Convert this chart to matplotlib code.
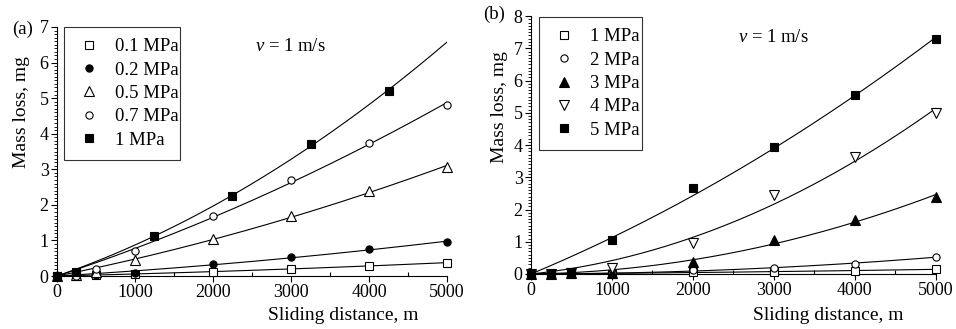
import numpy as np
import matplotlib
matplotlib.use("Agg")
import matplotlib.pyplot as plt
from matplotlib.ticker import MultipleLocator

plt.rcParams['font.family'] = ['Liberation Serif', 'DejaVu Serif']
plt.rcParams['mathtext.fontset'] = 'custom'
plt.rcParams['mathtext.rm'] = 'Liberation Serif'
plt.rcParams['mathtext.it'] = 'Liberation Serif:italic'

# ---------------- data panel (a) ----------------
a_labels = ["0.1 MPa", "0.2 MPa", "0.5 MPa", "0.7 MPa", "1 MPa"]
a_x_std = [0, 250, 500, 1000, 2000, 3000, 4000, 5000]
a_x_1mpa = [0, 250, 1250, 2250, 3250, 4250]
a_01 = [0, 0.0, 0.02, 0.05, 0.12, 0.21, 0.29, 0.37]
a_02 = [0, 0.02, 0.03, 0.09, 0.33, 0.54, 0.75, 0.96]
a_05 = [0, 0.03, 0.10, 0.46, 1.03, 1.70, 2.38, 3.07]
a_07 = [0, 0.0, 0.21, 0.70, 1.70, 2.69, 3.75, 4.82]
a_10 = [0, 0.10, 1.13, 2.25, 3.70, 5.21]

# ---------------- data panel (b) ----------------
b_labels = ["1 MPa", "2 MPa", "3 MPa", "4 MPa", "5 MPa"]
b_x = [0, 250, 500, 1000, 2000, 3000, 4000, 5000]
b_1 = [0, 0.0, 0.01, 0.01, 0.07, 0.06, 0.10, 0.15]
b_2 = [0, 0.0, 0.0, 0.02, 0.12, 0.20, 0.30, 0.54]
b_3 = [0, 0.0, 0.02, 0.03, 0.36, 1.05, 1.67, 2.40]
b_4 = [0, 0.0, 0.03, 0.20, 0.97, 2.45, 3.64, 4.98]
b_5 = [0, 0.0, 0.05, 1.05, 2.66, 3.95, 5.55, 7.29]

xticks = [0, 1000, 2000, 3000, 4000, 5000]


def fit_curve(x, y, xs):
    x = np.asarray(x, float)
    y = np.asarray(y, float)
    A = np.vstack([x, x ** 2]).T
    c, *_ = np.linalg.lstsq(A, y, rcond=None)
    return c[0] * xs + c[1] * xs ** 2


fig = plt.figure(figsize=(9.56, 3.29), dpi=100)
ax_a = fig.add_axes([0.0596, 0.161, 0.408, 0.757])
ax_b = fig.add_axes([0.5554, 0.1672, 0.4236, 0.784])

xs = np.linspace(0, 5000, 200)
mk = dict(markeredgecolor='black', markeredgewidth=0.8, linestyle='none', clip_on=False, zorder=3)


def msize(m):
    return 7 if m in ('^', 'v') else 5.2


# panel a
a_series = [
    (a_x_std, a_01, 's', 'white'),
    (a_x_std, a_02, 'o', 'black'),
    (a_x_std, a_05, '^', 'white'),
    (a_x_std, a_07, 'o', 'white'),
    (a_x_1mpa, a_10, 's', 'black'),
]
for (x, y, m, fc), lab in zip(a_series, a_labels):
    ax_a.plot(xs, fit_curve(x, y, xs), color='black', lw=0.8, zorder=2)
    ax_a.plot(x, y, marker=m, markerfacecolor=fc, markersize=msize(m), label=lab, **mk)

# panel b
b_series = [
    (b_x, b_1, 's', 'white'),
    (b_x, b_2, 'o', 'white'),
    (b_x, b_3, '^', 'black'),
    (b_x, b_4, 'v', 'white'),
    (b_x, b_5, 's', 'black'),
]
for (x, y, m, fc), lab in zip(b_series, b_labels):
    ax_b.plot(xs, fit_curve(x, y, xs), color='black', lw=0.8, zorder=2)
    ax_b.plot(x, y, marker=m, markerfacecolor=fc, markersize=msize(m), label=lab, **mk)

for ax, ymax, leg_box, ylab_x, ylab_y in [
    (ax_a, 7, (0.018, 0.482, 0.297, 0.518), -0.09, 0.66),
    (ax_b, 8, (0.02, 0.492, 0.254, 0.504), -0.077, 0.647),
]:
    ax.set_xlim(0, 5000)
    ax.set_ylim(0, ymax)
    ax.spines['top'].set_visible(False)
    ax.spines['right'].set_visible(False)
    for s in ['left', 'bottom']:
        ax.spines[s].set_linewidth(0.8)
    ax.set_xticks(xticks)
    ax.xaxis.set_minor_locator(MultipleLocator(500))
    ax.yaxis.set_major_locator(MultipleLocator(1))
    ax.yaxis.set_minor_locator(MultipleLocator(0.1))
    ax.tick_params(axis='x', which='major', direction='out', length=4, width=0.8, labelsize=13, pad=2)
    ax.tick_params(axis='x', which='minor', direction='in', length=3, width=0.8)
    ax.tick_params(axis='y', which='major', direction='out', length=4, width=0.8, labelsize=13, pad=2)
    ax.tick_params(axis='y', which='minor', direction='out', length=2, width=0.6)
    ax.set_xlabel("Sliding distance, m", fontsize=14)
    ax.set_ylabel("Mass loss, mg", fontsize=14)
    ax.xaxis.label.set_va('center')
    ax.yaxis.label.set_va('center')
    ax.xaxis.set_label_coords(0.735, -0.16)
    ax.yaxis.set_label_coords(ylab_x, ylab_y)
    leg = ax.legend(loc='upper left', bbox_to_anchor=leg_box, mode='expand',
                    fontsize=13.5, frameon=True, fancybox=False, edgecolor='black',
                    borderaxespad=0, handletextpad=0.6, labelspacing=0.33,
                    handlelength=1.5, borderpad=0.6, markerscale=1.0)
    leg.get_frame().set_linewidth(0.8)

ax_a.text(2990, 6.44, "$v$ = 1 m/s", fontsize=13.5, ha='center', va='center')
ax_b.text(2990, 7.35, "$v$ = 1 m/s", fontsize=13.5, ha='center', va='center')

fig.text(12 / 956, 1 - 29 / 329, "(a)", fontsize=13.5, ha='left', va='center')
fig.text(483 / 956, 1 - 14 / 329, "(b)", fontsize=13.5, ha='left', va='center')

fig.savefig("out.png", dpi=100)
